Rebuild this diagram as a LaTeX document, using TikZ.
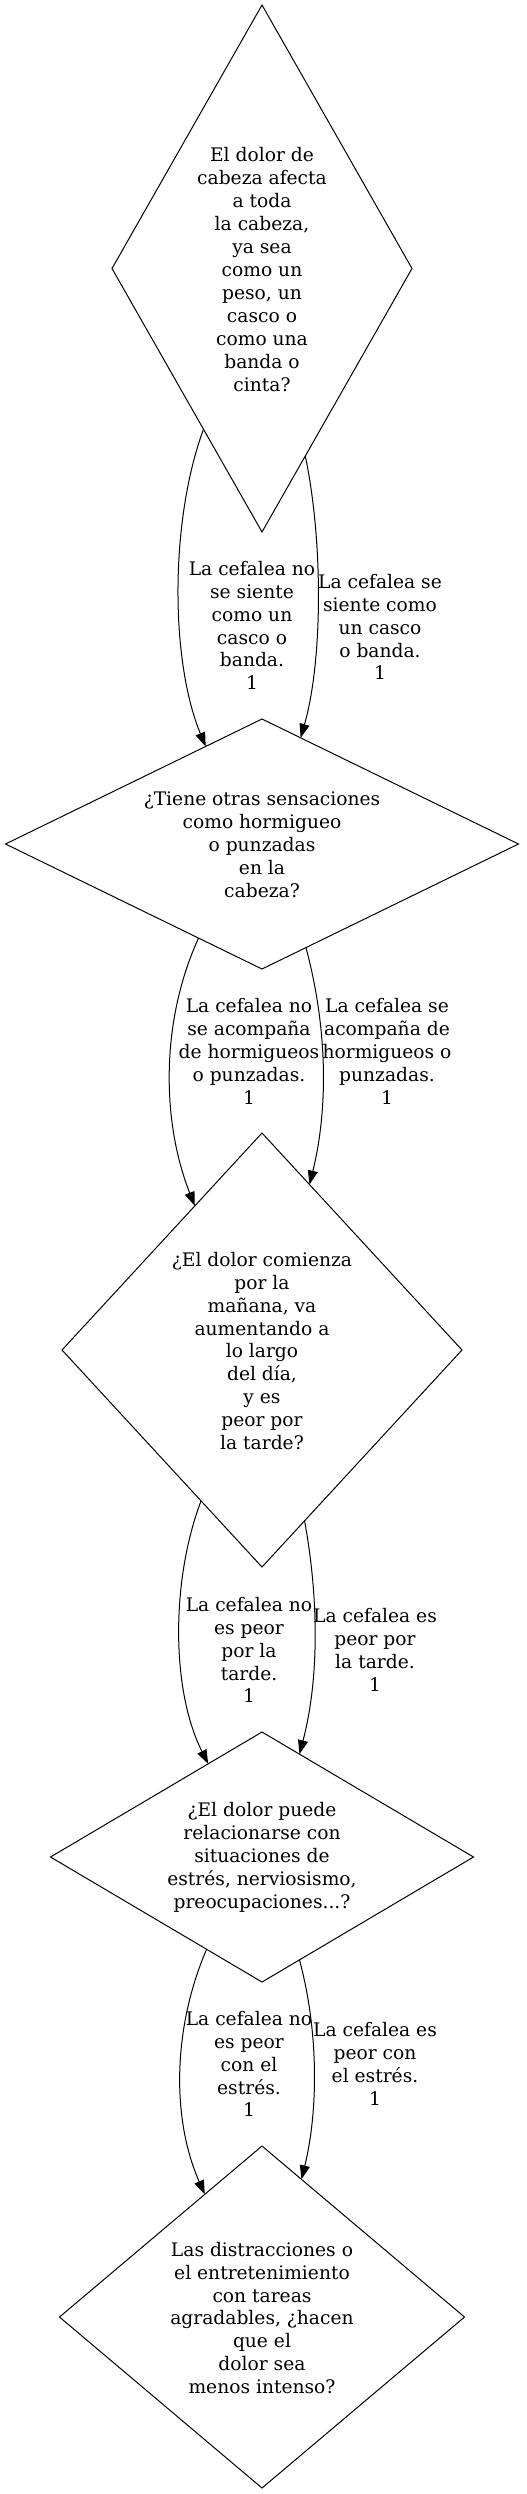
\documentclass[tikz,border=0pt]{standalone}
\usepackage{fontspec}
\setmainfont{DejaVu Serif}
\usetikzlibrary{shapes.geometric,arrows.meta}
\begin{document}
\begin{tikzpicture}[x=0.75pt,y=-0.75pt,
  dia/.style={draw, diamond, inner sep=0pt, outer sep=0pt, line width=0.75pt},
  txt/.style={align=center, inner sep=0pt, font=\fontsize{14}{17.2}\selectfont},
  conn/.style={line width=0.75pt, -{Triangle[length=10.5pt,width=7.5pt]}}]
\useasboundingbox (0,0) rectangle (527,2494);

% diamonds
\node[dia, minimum width=225pt, minimum height=395.25pt] (d1) at (262,268.5) {};
\node[dia, minimum width=384.75pt, minimum height=187.5pt] (d2) at (262,844) {};
\node[dia, minimum width=300pt, minimum height=325.5pt] (d3) at (262,1350) {};
\node[dia, minimum width=317.25pt, minimum height=187.5pt] (d4) at (262,1857) {};
\node[dia, minimum width=303.75pt, minimum height=256.5pt] (d5) at (262,2317) {};

% diamond texts
\node[txt] (t1) at (262,269.5) {El dolor de\\cabeza afecta\\a toda\\la cabeza,\\ya sea\\como un\\peso, un\\casco o\\como una\\banda o\\cinta?};
\node[txt] (t2) at (262,845) {¿Tiene otras sensaciones\\como hormigueo\\o punzadas\\en la\\cabeza?};
\node[txt] (t3) at (262,1351) {¿El dolor comienza\\por la\\mañana, va\\aumentando a\\lo largo\\del día,\\y es\\peor por\\la tarde?};
\node[txt] (t4) at (262,1857) {¿El dolor puede\\relacionarse con\\situaciones de\\estrés, nerviosismo,\\preocupaciones...?};
\node[txt] (t5) at (262,2318) {Las distracciones o\\el entretenimiento\\con tareas\\agradables, ¿hacen\\que el\\dolor sea\\menos intenso?};

% connectors
\draw[conn] (d1.250) .. controls (170,520) and (170,660) .. (d2.120);
\draw[conn] (d1.283) .. controls (323,540) and (323,660) .. (d2.70);
\draw[conn] (d2.236) .. controls (161,1020) and (161,1120) .. (d3.115);
\draw[conn] (d2.293) .. controls (328,1030) and (328,1110) .. (d3.74);
\draw[conn] (d3.248) .. controls (171,1580) and (171,1690) .. (d4.120);
\draw[conn] (d3.284) .. controls (319,1600) and (319,1680) .. (d4.70);
\draw[conn] (d4.239) .. controls (172,2030) and (172,2120) .. (d5.115);
\draw[conn] (d4.290) .. controls (318.5,2030) and (318.5,2110) .. (d5.74);

% connector labels
\node[txt] (l1a) at (252,625.5) {La cefalea no\\se siente\\como un\\casco o\\banda.\\1};
\node[txt] (l1b) at (380,627) {La cefalea se\\siente como\\un casco\\o banda.\\1};
\node[txt] (l2a) at (249,1051.5) {La cefalea no\\se acompaña\\de hormigueos\\o punzadas.\\1};
\node[txt] (l2b) at (387,1051.5) {La cefalea se\\acompaña de\\hormigueos o\\punzadas.\\1};
\node[txt] (l3a) at (249,1650) {La cefalea no\\es peor\\por la\\tarde.\\1};
\node[txt] (l3b) at (375,1650) {La cefalea es\\peor por\\la tarde.\\1};
\node[txt] (l4a) at (249,2064) {La cefalea no\\es peor\\con el\\estrés.\\1};
\node[txt] (l4b) at (375,2064) {La cefalea es\\peor con\\el estrés.\\1};
\end{tikzpicture}
\end{document}
